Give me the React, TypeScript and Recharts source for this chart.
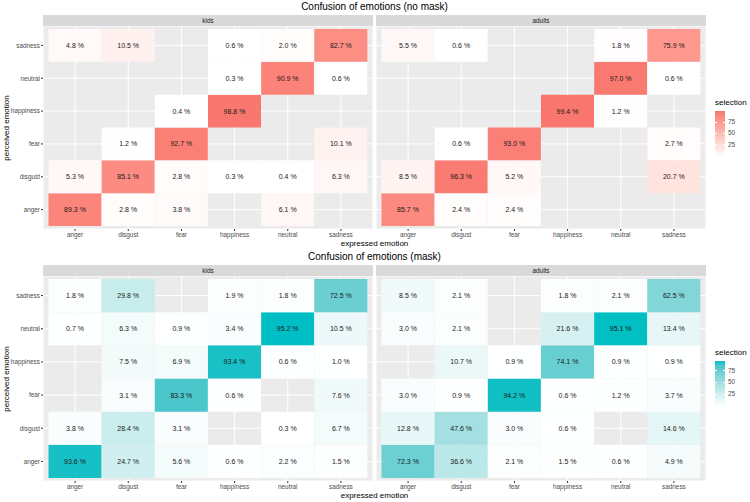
import React from 'react';
import { BarChart, Bar, XAxis, YAxis, CartesianGrid, Cell, LabelList } from 'recharts';

// categories (same list on both axes)
const emotions = ['anger', 'disgust', 'fear', 'happiness', 'neutral', 'sadness'];
const groups = ['kids', 'adults'];
const titles = ['Confusion of emotions (no mask)', 'Confusion of emotions (mask)'];
const legendTicks = [25, 50, 75];

// rows = perceived emotion (anger .. sadness), columns = expressed emotion (anger .. sadness)
const kidsNoMask: (number | null)[][] = [
  [89.3, 2.8, 3.8, null, 6.1, null],
  [5.3, 85.1, 2.8, 0.3, 0.4, 6.3],
  [null, 1.2, 92.7, null, null, 10.1],
  [null, null, 0.4, 98.8, null, null],
  [null, null, null, 0.3, 90.9, 0.6],
  [4.8, 10.5, null, 0.6, 2.0, 82.7],
];
const adultsNoMask: (number | null)[][] = [
  [85.7, 2.4, 2.4, null, null, null],
  [8.5, 96.3, 5.2, null, null, 20.7],
  [null, 0.6, 93.0, null, null, 2.7],
  [null, null, null, 99.4, 1.2, null],
  [null, null, null, null, 97.0, 0.6],
  [5.5, 0.6, null, null, 1.8, 75.9],
];
const kidsMask: (number | null)[][] = [
  [93.6, 24.7, 5.6, 0.6, 2.2, 1.5],
  [3.8, 28.4, 3.1, null, 0.3, 6.7],
  [null, 3.1, 83.3, 0.6, null, 7.6],
  [null, 7.5, 6.9, 93.4, 0.6, 1.0],
  [0.7, 6.3, 0.9, 3.4, 95.2, 10.5],
  [1.8, 29.8, null, 1.9, 1.8, 72.5],
];
const adultsMask: (number | null)[][] = [
  [72.3, 36.6, 2.1, 1.5, 0.6, 4.9],
  [12.8, 47.6, 3.0, 0.6, null, 14.6],
  [3.0, 0.9, 94.2, 0.6, 1.2, 3.7],
  [null, 10.7, 0.9, 74.1, 0.9, 0.9],
  [3.0, 2.1, null, 21.6, 95.1, 13.4],
  [8.5, 2.1, null, 1.8, 2.1, 62.5],
];

const RED = '#F8766D';
const TEAL = '#00BFC4';
const FONT = '"Liberation Sans", Arial, Helvetica, sans-serif';

// --- white -> colour gradient in Lab space (like scale_fill_gradient)
const lin = (c: number) => (c <= 0.04045 ? c / 12.92 : Math.pow((c + 0.055) / 1.055, 2.4));
const gam = (c: number) => (c <= 0.0031308 ? 12.92 * c : 1.055 * Math.pow(c, 1 / 2.4) - 0.055);
const fLab = (t: number) => (t > 0.008856 ? Math.cbrt(t) : 7.787 * t + 16 / 116);
const fInv = (t: number) => (t * t * t > 0.008856 ? t * t * t : (t - 16 / 116) / 7.787);

function toLab(hex: string) {
  const r = lin(parseInt(hex.slice(1, 3), 16) / 255);
  const g = lin(parseInt(hex.slice(3, 5), 16) / 255);
  const b = lin(parseInt(hex.slice(5, 7), 16) / 255);
  const x = (0.4124 * r + 0.3576 * g + 0.1805 * b) / 0.95047;
  const y = 0.2126 * r + 0.7152 * g + 0.0722 * b;
  const z = (0.0193 * r + 0.1192 * g + 0.9505 * b) / 1.08883;
  const fx = fLab(x), fy = fLab(y), fz = fLab(z);
  return [116 * fy - 16, 500 * (fx - fy), 200 * (fy - fz)];
}

function fromLab([L, A, B]: number[]) {
  const fy = (L + 16) / 116;
  const fx = A / 500 + fy;
  const fz = fy - B / 200;
  const x = 0.95047 * fInv(fx), y = fInv(fy), z = 1.08883 * fInv(fz);
  const r = 3.2406 * x - 1.5372 * y - 0.4986 * z;
  const g = -0.9689 * x + 1.8758 * y + 0.0415 * z;
  const b = 0.0557 * x - 0.204 * y + 1.057 * z;
  const c = (v: number) => Math.round(Math.max(0, Math.min(1, gam(v))) * 255);
  return `rgb(${c(r)},${c(g)},${c(b)})`;
}

function gradient(high: string, t: number) {
  const lo = toLab('#FFFFFF');
  const hi = toLab(high);
  const k = Math.max(0, Math.min(1, t));
  return fromLab(lo.map((v, i) => v + (hi[i] - v) * k));
}

function rangeOf(...mats: (number | null)[][][]) {
  const vals = mats.flat(2).filter((v): v is number => v != null);
  return [Math.min(...vals), Math.max(...vals)];
}

const renderLabel = (props: any) => {
  const vb = props.viewBox || props;
  const x = Number(vb.x ?? props.x);
  const y = Number(vb.y ?? props.y);
  const w = Number(vb.width ?? props.width);
  const h = Number(vb.height ?? props.height);
  const v = props.value;
  if (v == null || Number.isNaN(x)) return null;
  return (
    <text x={x + w / 2} y={y + h / 2} textAnchor="middle" dominantBaseline="central"
      fontSize={7} fill="#1A1A1A" fontFamily={FONT}>
      {`${Number(v).toFixed(1)} %`}
    </text>
  );
};

interface PanelProps {
  matrix: (number | null)[][];
  high: string;
  range: number[];
  showY: boolean;
  left: number;
  top: number;
  plotH: number;
}

function Panel({ matrix, high, range, showY, left, top, plotH }: PanelProps) {
  const data = emotions.map((e, i) => {
    const row: any = { expressed: e };
    emotions.forEach((_, j) => {
      row['t' + j] = 1;
      row['p' + j] = matrix[j][i];
    });
    return row;
  });
  const yw = showY ? 43 : 0;
  const [lo, hi] = range;
  return (
    <div style={{ position: 'absolute', left, top }}>
      <BarChart width={330 + yw} height={plotH + 14} data={data}
        margin={{ top: 0, right: 0, bottom: 0, left: 0 }} barCategoryGap={0} barGap={0}>
        <CartesianGrid fill="#EBEBEB" fillOpacity={1} stroke="#FFFFFF" strokeWidth={1} />
        <XAxis dataKey="expressed" type="category" interval={0} height={14}
          padding={{ left: 5.5, right: 5.5 }} tickSize={2} tickMargin={1} axisLine={false}
          tickLine={{ stroke: '#333333' }}
          tick={{ fontSize: 6.4, fill: '#4D4D4D', fontFamily: FONT }} />
        <YAxis type="number" domain={[-0.09, 6.09]} allowDataOverflow
          ticks={emotions.map((_, j) => j + 0.5)}
          tickFormatter={(v: number) => emotions[Math.floor(v)]}
          hide={!showY} width={43} tickSize={2} tickMargin={1} axisLine={false}
          tickLine={{ stroke: '#333333' }}
          tick={{ fontSize: 6.4, fill: '#4D4D4D', fontFamily: FONT }} />
        {emotions.map((_, j) => (
          <Bar key={j} dataKey={'t' + j} stackId="tile" isAnimationActive={false}>
            {data.map((row, i) => {
              const v = row['p' + j];
              return (
                <Cell key={i} fill={v == null ? 'transparent' : gradient(high, (v - lo) / (hi - lo))} />
              );
            })}
            <LabelList dataKey={'p' + j} content={renderLabel} />
          </Bar>
        ))}
      </BarChart>
    </div>
  );
}

function Strip({ label, left, top }: { label: string; left: number; top: number }) {
  return (
    <div style={{
      position: 'absolute', left, top, width: 330, height: 11, background: '#D9D9D9',
      fontSize: 6.4, lineHeight: '11px', textAlign: 'center', color: '#1A1A1A',
    }}>{label}</div>
  );
}

function ColorBar({ high, range, top }: { high: string; range: number[]; top: number }) {
  const [lo, hi] = range;
  const H = 45;
  const stops = Array.from({ length: 11 }, (_, k) => `${gradient(high, 1 - k / 10)} ${k * 10}%`).join(', ');
  return (
    <>
      <div style={{ position: 'absolute', left: 715, top: top - 13, fontSize: 8, lineHeight: '10px', color: '#000' }}>
        selection
      </div>
      <div style={{
        position: 'absolute', left: 715, top, width: 10, height: H,
        background: `linear-gradient(to bottom, ${stops})`,
      }} />
      {legendTicks.map((t) => {
        const y = top + H - ((t - lo) / (hi - lo)) * H;
        return (
          <React.Fragment key={t}>
            <div style={{ position: 'absolute', left: 715, top: y - 0.5, width: 2, height: 1, background: '#fff' }} />
            <div style={{ position: 'absolute', left: 723, top: y - 0.5, width: 2, height: 1, background: '#fff' }} />
            <div style={{
              position: 'absolute', left: 728, top: y - 4, fontSize: 6.4, lineHeight: '8px', color: '#4D4D4D',
            }}>{t}</div>
          </React.Fragment>
        );
      })}
    </>
  );
}

function Half({ title, mats, high, top, plotH }: {
  title: string; mats: (number | null)[][][]; high: string; top: number; plotH: number;
}) {
  const range = rangeOf(...mats);
  const panelTop = top + 26;
  return (
    <>
      <div style={{
        position: 'absolute', left: 43, top: top + 1, width: 663, textAlign: 'center',
        fontSize: 10, lineHeight: '12px', color: '#000', whiteSpace: 'nowrap',
      }}>{title}</div>
      <Strip label={groups[0]} left={43} top={top + 15} />
      <Strip label={groups[1]} left={376} top={top + 15} />
      <Panel matrix={mats[0]} high={high} range={range} showY left={0} top={panelTop} plotH={plotH} />
      <Panel matrix={mats[1]} high={high} range={range} showY={false} left={376} top={panelTop} plotH={plotH} />
      <div style={{
        position: 'absolute', left: 43, top: panelTop + plotH + 10, width: 663, textAlign: 'center',
        fontSize: 8, lineHeight: '10px', color: '#000', whiteSpace: 'nowrap',
      }}>expressed emotion</div>
      <div style={{
        position: 'absolute', left: 7, top: panelTop + plotH / 2, fontSize: 8, lineHeight: '10px',
        color: '#000', whiteSpace: 'nowrap', transform: 'translate(-50%, -50%) rotate(-90deg)',
      }}>perceived emotion</div>
      <ColorBar high={high} range={range} top={top + 111} />
    </>
  );
}

export default function App() {
  return (
    <div style={{
      position: 'absolute', left: 0, top: 0, width: 750, height: 502, background: '#FFFFFF',
      fontFamily: FONT, overflow: 'hidden',
    }}>
      <Half title={titles[0]} mats={[kidsNoMask, adultsNoMask]} high={RED} top={0} plotH={203} />
      <Half title={titles[1]} mats={[kidsMask, adultsMask]} high={TEAL} top={250} plotH={205} />
    </div>
  );
}
